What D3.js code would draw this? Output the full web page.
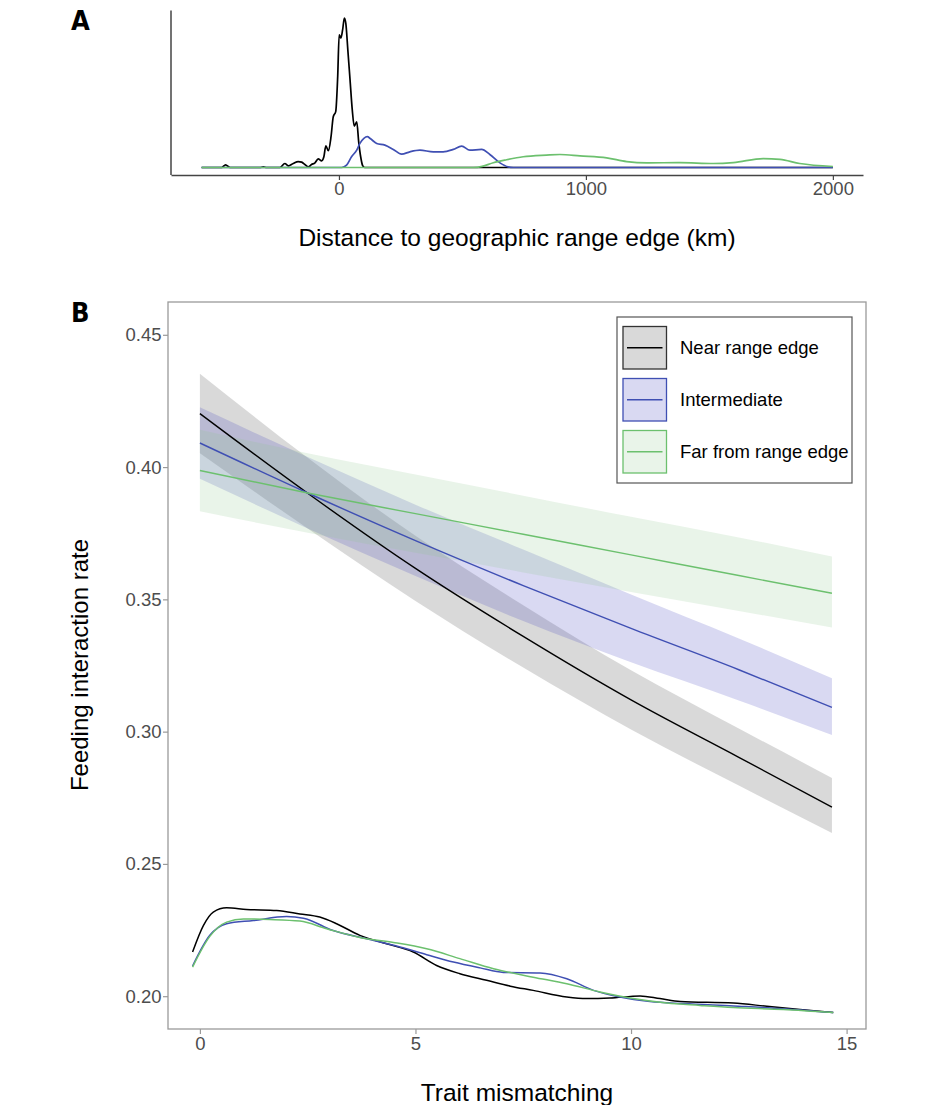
<!DOCTYPE html>
<html>
<head>
<meta charset="utf-8">
<script src="https://cdn.jsdelivr.net/npm/d3@7"></script>
<style>
  body { margin: 0; background: #fff; }
  svg { display: block; font-family: "Liberation Sans", Arial, sans-serif; }
</style>
</head>
<body>
<div id="chart"></div>
<script>
// panel A: density of distance to range edge (km), relative height
var distTicks = [0, 1000, 2000];
var distNear = [[-556,0],[-475,0],[-459,0.018],[-441,0],[-320,0],[-306,0.004],[-293,0],[-239,0],[-219,0.027],[-205,0.011],[-185,0.027],[-165,0.040],[-151,0.036],[-138,0.020],[-124,0.004],[-111,0.020],[-97,0.031],[-84,0.058],[-70,0.045],[-61,0.072],[-53,0.145],[-43,0.112],[-32,0.206],[-23,0.340],[-13,0.374],[-5,0.609],[1,0.888],[8,0.866],[15,0.922],[22,1.0],[28,0.962],[36,0.787],[45,0.586],[54,0.385],[62,0.277],[72,0.306],[80,0.172],[88,0.072],[96,0.013],[104,0],[2000,0]];
var distInter = [[-556,0],[11,0],[31,0.016],[51,0.072],[72,0.116],[85,0.161],[101,0.195],[115,0.206],[128,0.192],[153,0.161],[186,0.150],[220,0.121],[254,0.089],[287,0.105],[328,0.116],[382,0.105],[422,0.105],[463,0.121],[497,0.143],[530,0.116],[578,0.121],[611,0.087],[652,0.031],[685,0.004],[706,0],[2000,0]];
var distFar = [[-556,0],[544,0],[580,0.008],[625,0.032],[679,0.052],[746,0.072],[840,0.083],[895,0.087],[976,0.078],[1084,0.065],[1165,0.040],[1246,0.031],[1381,0.033],[1516,0.027],[1597,0.033],[1718,0.060],[1786,0.054],[1866,0.027],[2000,0.007]];

// panel B: fitted feeding interaction rate vs trait mismatching
var traitTicks = [0, 5, 10, 15];
var rateTicks = [0.20, 0.25, 0.30, 0.35, 0.40, 0.45];
var trait = [0, 2.5, 5, 7.5, 10, 12.5, 14.66];
var nearFit = [0.4202, 0.3901, 0.3617, 0.3360, 0.3120, 0.2903, 0.2715];
var nearHi  = [0.4353, 0.4035, 0.3740, 0.3478, 0.3232, 0.3012, 0.2825];
var nearLo  = [0.4052, 0.3768, 0.3494, 0.3242, 0.3008, 0.2796, 0.2617];
var interFit = [0.4091, 0.3902, 0.3722, 0.3552, 0.3390, 0.3234, 0.3092];
var interHi  = [0.4226, 0.4038, 0.3858, 0.3688, 0.3518, 0.3352, 0.3202];
var interLo  = [0.3956, 0.3768, 0.3588, 0.3418, 0.3262, 0.3118, 0.2987];
var farFit = [0.3987, 0.3902, 0.3824, 0.3746, 0.3668, 0.3590, 0.3523];
var farHi  = [0.4141, 0.4052, 0.3972, 0.3892, 0.3812, 0.3734, 0.3662];
var farLo  = [0.3833, 0.3752, 0.3676, 0.3602, 0.3528, 0.3456, 0.3394];

// trait mismatching distributions drawn at the bottom of panel B
var lowNear = [[-0.17,0.2167],[0.08,0.2267],[0.31,0.2318],[0.62,0.2334],[1.08,0.2328],[1.78,0.2324],[2.32,0.2311],[2.78,0.2299],[3.17,0.2274],[3.71,0.2230],[4.33,0.2198],[4.95,0.2167],[5.49,0.2116],[6.03,0.2085],[6.65,0.2060],[7.2,0.2038],[7.73,0.2022],[8.51,0.1997],[8.97,0.1991],[9.51,0.1993],[10.21,0.2001],[10.67,0.1991],[11.14,0.1980],[12.37,0.1974],[13.15,0.1962],[13.92,0.1950],[14.69,0.1938]];
var lowInter = [[-0.17,0.2114],[0.23,0.2230],[0.62,0.2274],[1.24,0.2286],[2.01,0.2301],[2.40,0.2295],[3.09,0.2248],[3.87,0.2217],[4.64,0.2186],[5.26,0.2157],[5.88,0.2129],[6.50,0.2107],[7.04,0.2090],[7.89,0.2088],[8.51,0.2066],[9.13,0.2022],[9.74,0.1997],[10.44,0.1980],[11.21,0.1972],[12.37,0.1963],[13.53,0.1953],[14.69,0.1938]];
var lowFar = [[-0.17,0.2110],[0.23,0.2226],[0.62,0.2280],[1.01,0.2292],[1.62,0.2290],[2.32,0.2284],[2.94,0.2255],[3.71,0.2222],[4.49,0.2203],[5.26,0.2179],[6.03,0.2142],[6.81,0.2104],[7.73,0.2072],[8.51,0.2047],[9.28,0.2016],[10.05,0.1991],[10.83,0.1974],[11.6,0.1965],[12.37,0.1957],[13.53,0.1950],[14.69,0.1938]];

var groups = ["Near range edge", "Intermediate", "Far from range edge"];
var lineColor = ["#000000", "#3f4fb3", "#6cc06e"];
var bandColor = ["#808080", "#4040c0", "#90c890"];
var bandAlpha = [0.3, 0.2, 0.2];
var keyStroke = ["#333333", "#3f4fb3", "#6cc06e"];

var width = 931, height = 1105;
var svg = d3.select("#chart").append("svg")
    .attr("width", width)
    .attr("height", height);

svg.append("rect").attr("width", width).attr("height", height).attr("fill", "#fff");

/* ---------- panel A ---------- */
var ax = d3.scaleLinear().domain([-680, 2122]).range([171, 863]);
var ay = d3.scaleLinear().domain([-0.05, 1.05]).range([175, 10.5]);

var densLine = d3.line()
    .x(function (d) { return ax(d[0]); })
    .y(function (d) { return ay(d[1]); })
    .curve(d3.curveMonotoneX);

[distNear, distInter, distFar].forEach(function (s, i) {
    svg.append("path")
        .attr("d", densLine(s))
        .attr("fill", "none")
        .attr("stroke", lineColor[i])
        .attr("stroke-width", 1.7);
});

var axA = svg.append("g")
    .attr("transform", "translate(0,175)")
    .call(d3.axisBottom(ax).tickValues(distTicks).tickFormat(d3.format("d"))
        .tickSize(5).tickSizeOuter(0).tickPadding(2));
axA.select(".domain").attr("stroke", "#444").attr("stroke-width", 1.5);
axA.selectAll(".tick line").attr("stroke", "#444").attr("stroke-width", 1.2);
axA.selectAll("text").attr("font-size", 18.5).attr("fill", "#4d4d4d")
    .attr("font-family", "Liberation Sans, Arial, sans-serif");

svg.append("line")
    .attr("x1", 171).attr("x2", 171)
    .attr("y1", ay.range()[0]).attr("y2", ay.range()[1])
    .attr("stroke", "#444").attr("stroke-width", 1.5);

svg.append("text")
    .attr("x", 517).attr("y", 246)
    .attr("text-anchor", "middle")
    .attr("font-size", 24.5)
    .text("Distance to geographic range edge (km)");

/* ---------- panel B ---------- */
var bx = d3.scaleLinear().domain([-0.74, 15.45]).range([168, 866]);
var by = d3.scaleLinear().domain([0.1876, 0.4624]).range([1029, 302]);

var band = d3.area()
    .x(function (d) { return bx(d.x); })
    .y0(function (d) { return by(d.lo); })
    .y1(function (d) { return by(d.hi); })
    .curve(d3.curveMonotoneX);

var fitLine = d3.line()
    .x(function (d) { return bx(d.x); })
    .y(function (d) { return by(d.y); })
    .curve(d3.curveMonotoneX);

var lowLine = d3.line()
    .x(function (d) { return bx(d[0]); })
    .y(function (d) { return by(d[1]); })
    .curve(d3.curveMonotoneX);

var fits = [[nearFit, nearLo, nearHi], [interFit, interLo, interHi], [farFit, farLo, farHi]];

fits.forEach(function (f, i) {
    var rows = trait.map(function (x, j) { return {x: x, y: f[0][j], lo: f[1][j], hi: f[2][j]}; });
    svg.append("path")
        .attr("d", band(rows))
        .attr("fill", bandColor[i])
        .attr("fill-opacity", bandAlpha[i]);
});

fits.forEach(function (f, i) {
    var rows = trait.map(function (x, j) { return {x: x, y: f[0][j]}; });
    svg.append("path")
        .attr("d", fitLine(rows))
        .attr("fill", "none")
        .attr("stroke", lineColor[i])
        .attr("stroke-width", 1.4);
});

[lowNear, lowInter, lowFar].forEach(function (s, i) {
    svg.append("path")
        .attr("d", lowLine(s))
        .attr("fill", "none")
        .attr("stroke", lineColor[i])
        .attr("stroke-width", 1.5);
});

// panel border
svg.append("rect")
    .attr("x", 168).attr("y", 302)
    .attr("width", 698).attr("height", 727)
    .attr("fill", "none")
    .attr("stroke", "#9a9a9a")
    .attr("stroke-width", 1.3);

var axBx = svg.append("g")
    .attr("transform", "translate(0,1029)")
    .call(d3.axisBottom(bx).tickValues(traitTicks).tickSize(5).tickPadding(3));
var axBy = svg.append("g")
    .attr("transform", "translate(168,0)")
    .call(d3.axisLeft(by).tickValues(rateTicks).tickFormat(d3.format(".2f")).tickSize(5).tickPadding(1.5));

[axBx, axBy].forEach(function (g) {
    g.select(".domain").remove();
    g.selectAll(".tick line").attr("stroke", "#9a9a9a").attr("stroke-width", 1.2);
    g.selectAll("text").attr("font-size", 18.5).attr("fill", "#4d4d4d")
        .attr("font-family", "Liberation Sans, Arial, sans-serif");
});

svg.append("text")
    .attr("x", 517).attr("y", 1101)
    .attr("text-anchor", "middle")
    .attr("font-size", 24.5)
    .text("Trait mismatching");

svg.append("text")
    .attr("transform", "translate(88,665) rotate(-90)")
    .attr("text-anchor", "middle")
    .attr("font-size", 24)
    .text("Feeding interaction rate");

// legend
var legend = svg.append("g");
legend.append("rect")
    .attr("x", 617).attr("y", 317)
    .attr("width", 235).attr("height", 166)
    .attr("fill", "#fff")
    .attr("stroke", "#555")
    .attr("stroke-width", 1.2);

var keyY = [326.5, 378.5, 430.5];
groups.forEach(function (name, i) {
    var k = legend.append("g").attr("transform", "translate(623," + keyY[i] + ")");
    k.append("rect")
        .attr("width", 43.5).attr("height", 42.5)
        .attr("fill", "#fff");
    k.append("rect")
        .attr("width", 43.5).attr("height", 42.5)
        .attr("fill", bandColor[i])
        .attr("fill-opacity", bandAlpha[i])
        .attr("stroke", keyStroke[i])
        .attr("stroke-width", 1.3);
    k.append("line")
        .attr("x1", 4).attr("x2", 39.5)
        .attr("y1", 21.25).attr("y2", 21.25)
        .attr("stroke", lineColor[i])
        .attr("stroke-width", 1.4);
    k.append("text")
        .attr("x", 57).attr("y", 21.25)
        .attr("dy", "0.35em")
        .attr("font-size", 18.5)
        .text(name);
});

// panel letters
svg.append("text")
    .attr("x", 71).attr("y", 30)
    .attr("font-family", "'Liberation Sans Narrow', 'DejaVu Sans Condensed', sans-serif")
    .attr("font-weight", "bold")
    .attr("font-size", 27)
    .text("A");
svg.append("text")
    .attr("x", 71).attr("y", 322)
    .attr("font-family", "'Liberation Sans Narrow', 'DejaVu Sans Condensed', sans-serif")
    .attr("font-weight", "bold")
    .attr("font-size", 27)
    .text("B");
</script>
</body>
</html>
